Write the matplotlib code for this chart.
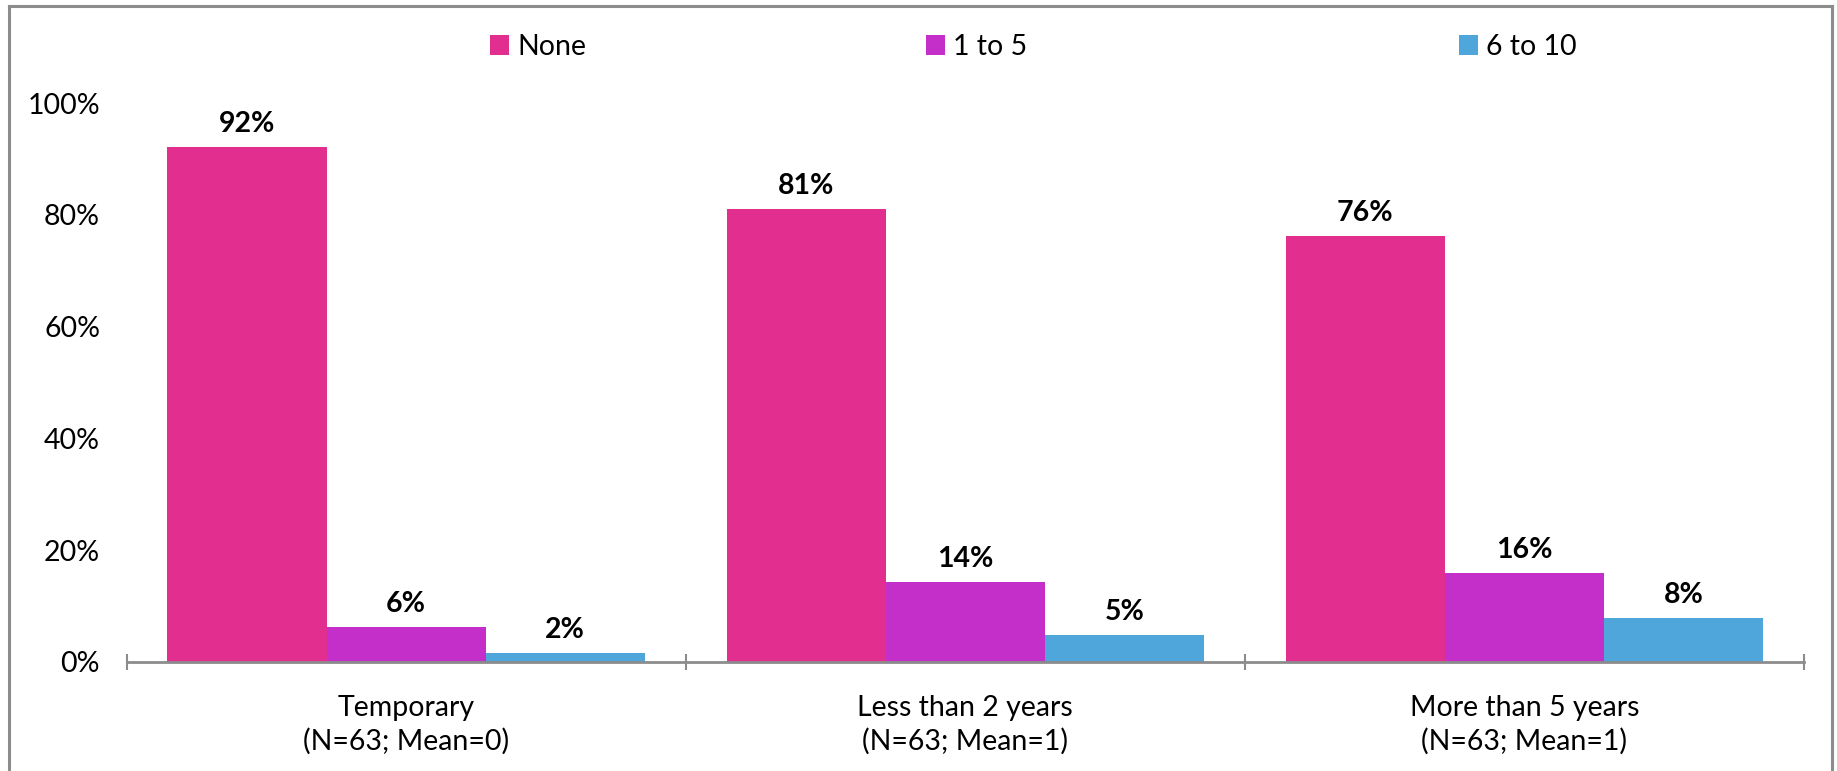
import matplotlib
matplotlib.use("Agg")
import matplotlib.pyplot as plt
from matplotlib.lines import Line2D
import numpy as np

plt.rcParams['font.family'] = ['Lato', 'DejaVu Sans']

categories = ["Temporary\n(N=63; Mean=0)",
              "Less than 2 years\n(N=63; Mean=1)",
              "More than 5 years\n(N=63; Mean=1)"]
series_names = ["None", "1 to 5", "6 to 10"]
none_vals = [92.1, 81.0, 76.2]
one_to_five_vals = [6.3, 14.3, 15.9]
six_to_ten_vals = [1.6, 4.8, 7.9]
colors = ["#E22E8E", "#C42FC9", "#4FA6DB"]
yticks = [0, 20, 40, 60, 80, 100]
ytick_labels = ["0%", "20%", "40%", "60%", "80%", "100%"]

FS = 20.5

W, H = 1837, 771
fig = plt.figure(figsize=(W / 100, H / 100), dpi=100)
ax = fig.add_axes([126.5 / W, 1 - 662 / H, (1804 - 126.5) / W, (662 - 103) / H])

x = np.arange(len(categories))
w = 0.2845
all_series = [none_vals, one_to_five_vals, six_to_ten_vals]
handles = []
for j, (vals, col, name) in enumerate(zip(all_series, colors, series_names)):
    bars = ax.bar(x + (j - 1) * w, vals, width=w, color=col, label=name, zorder=2)
    handles.append(bars)
    for b, v in zip(bars, vals):
        ax.annotate(f"{v:.0f}%", (b.get_x() + b.get_width() / 2, b.get_height()),
                    xytext=(0, 7), textcoords="offset points",
                    ha="center", va="bottom", fontsize=FS, fontweight="bold",
                    color="#000000")

ax.set_xlim(-0.5, 2.5)
ax.set_ylim(0, 100)
ax.set_yticks(yticks)
ax.set_yticklabels(ytick_labels, fontsize=FS)
ax.tick_params(axis="y", length=0, pad=19)
ax.set_xticks(x)
ax.set_xticklabels(categories, fontsize=FS, linespacing=1.3)
ax.tick_params(axis="x", which="major", length=0, pad=24)
ax.set_xticks([-0.5, 0.5, 1.5, 2.5], minor=True)
ax.tick_params(axis="x", which="minor", length=12, width=1.5, color="#8C8C8C",
               direction="inout")
for s in ["left", "right", "top"]:
    ax.spines[s].set_visible(False)
ax.spines["bottom"].set_color("#8C8C8C")
ax.spines["bottom"].set_linewidth(2)

# Legend entries
leg_x = [490 / W, 926 / W, 1459 / W]
for h, name, lx in zip(handles, series_names, leg_x):
    fig.legend(handles=[h], labels=[name], loc="center left",
               bbox_to_anchor=(lx, 1 - 47 / H), frameon=False, fontsize=FS,
               handlelength=0.65, handleheight=0.65, handletextpad=0.3,
               borderpad=0, borderaxespad=0)

# Outer border (no bottom edge)
bc = "#8C8C8C"
fig.add_artist(Line2D([8.5 / W, 8.5 / W], [0, 1 - 6 / H], transform=fig.transFigure, color=bc, lw=2.2))
fig.add_artist(Line2D([8.5 / W, 1832 / W], [1 - 6 / H, 1 - 6 / H], transform=fig.transFigure, color=bc, lw=2.2))
fig.add_artist(Line2D([1832 / W, 1832 / W], [0, 1 - 6 / H], transform=fig.transFigure, color=bc, lw=2.2))

fig.savefig("out.png", dpi=100)
